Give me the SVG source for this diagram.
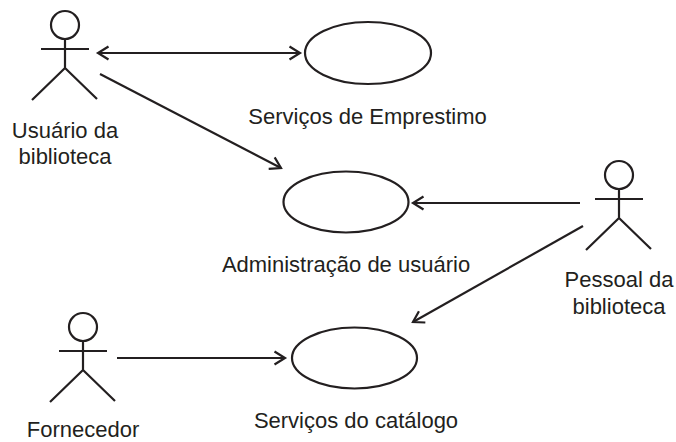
<svg xmlns="http://www.w3.org/2000/svg" width="676" height="442" viewBox="0 0 676 442">
<style>
.s{fill:none;stroke:#231f20;stroke-width:2.2}
.c{fill:none;stroke:#231f20;stroke-width:2.2}
text{font-family:"Liberation Sans",Arial,sans-serif;font-size:22px;fill:#231f20;text-anchor:middle}
</style>
<defs>
<marker id="a" markerUnits="userSpaceOnUse" markerWidth="16" markerHeight="18" refX="12" refY="8" orient="auto-start-reverse" overflow="visible">
<path d="M1.5 1.5 L12 8 L1.5 14.5" fill="none" stroke="#231f20" stroke-width="2.2"/>
</marker>
<g id="actor" class="s">
<circle cx="0" cy="0" r="14"/>
<path d="M0 14V43M-24 24H24M-33 75L0 43L32 74"/>
</g>
</defs>
<rect width="676" height="442" fill="#fff"/>
<g id="connectors">
<path class="c" d="M98 53H300" marker-start="url(#a)" marker-end="url(#a)"/>
<path class="c" d="M100 74L281 168" marker-end="url(#a)"/>
<path class="c" d="M580 203H413" marker-end="url(#a)"/>
<path class="c" d="M583 226L413 322" marker-end="url(#a)"/>
<path class="c" d="M117 358H285" marker-end="url(#a)"/>
</g>
<g id="usuario"><use href="#actor" x="65" y="25"/><text x="65" y="138">Usuário da</text><text x="65" y="164">biblioteca</text></g>
<g id="pessoal"><use href="#actor" x="619" y="175"/><text x="619" y="287">Pessoal da</text><text x="619" y="314">biblioteca</text></g>
<g id="fornecedor"><use href="#actor" x="83" y="327"/><text x="83" y="437">Fornecedor</text></g>
<g id="emprestimo"><ellipse class="s" cx="368" cy="53" rx="63" ry="31"/><text x="367.500" y="124">Serviços de Emprestimo</text></g>
<g id="administracao"><ellipse class="s" cx="346" cy="202" rx="62.500" ry="30.500"/><text x="346" y="272">Administração de usuário</text></g>
<g id="catalogo"><ellipse class="s" cx="354.500" cy="358" rx="62.500" ry="30.500"/><text x="356" y="428">Serviços do catálogo</text></g>
</svg>
